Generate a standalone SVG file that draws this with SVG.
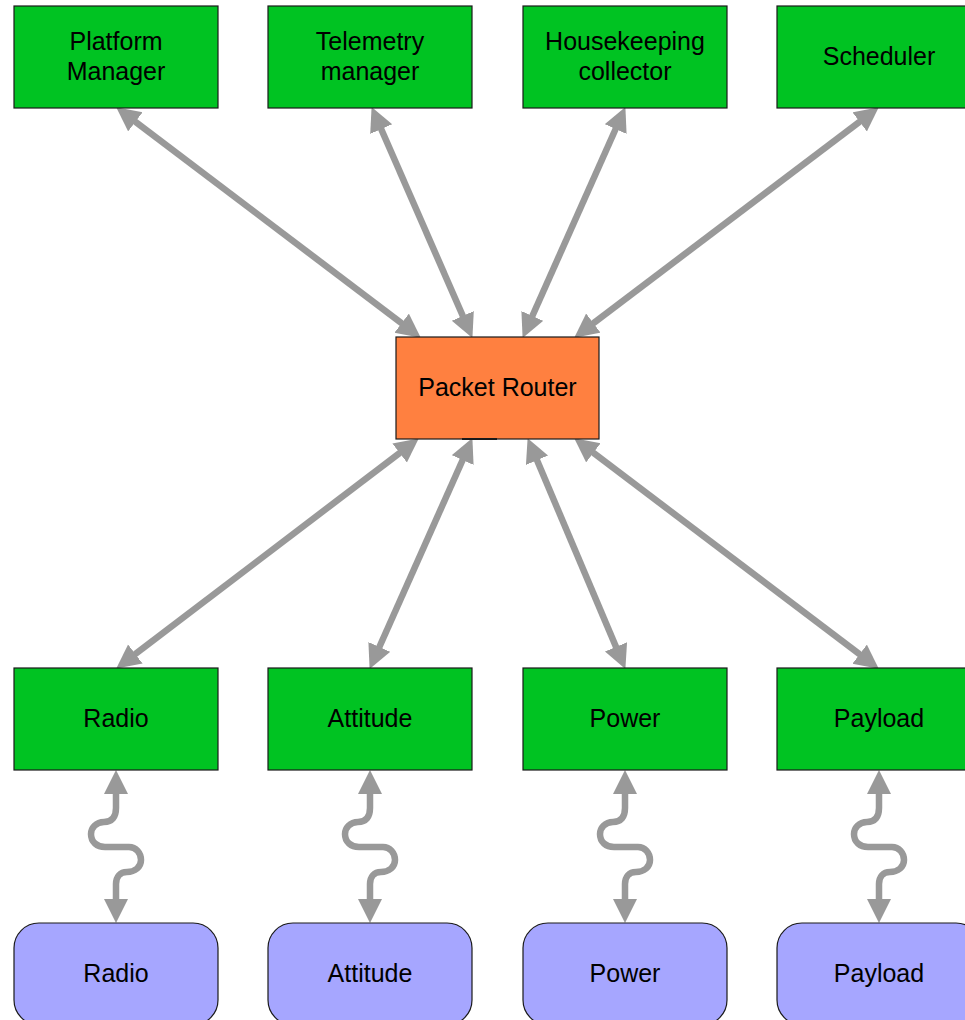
<svg xmlns="http://www.w3.org/2000/svg" width="965" height="1020" viewBox="0 0 965 1020">
  <style>
    .box { stroke: #1a1a1a; stroke-width: 1.2; }
    .app { fill: #00c322; }
    .router { fill: #ff8040; }
    .hw { fill: #a6a6ff; }
    .lbl { font-family: "Liberation Sans", Arial, sans-serif; font-size: 25px; fill: #000; text-anchor: middle; }
    .link { fill: none; stroke: #999999; stroke-width: 6.5; stroke-linejoin: round; marker-start: url(#head); marker-end: url(#head); }
  </style>
  <defs>
    <marker id="head" markerUnits="userSpaceOnUse" markerWidth="26" markerHeight="26" viewBox="0 0 26 26" refX="11" refY="12" orient="auto-start-reverse">
      <path d="M0,0 L24,12 L0,24 Z" fill="#999999"/>
    </marker>
  </defs>

  <!-- connectors -->
  <g id="connectors">
    <line class="link" x1="126.6" y1="115.2" x2="410.4" y2="329.8"/>
    <line class="link" x1="376.8" y1="119.0" x2="467.2" y2="326.0"/>
    <line class="link" x1="620.1" y1="119.0" x2="527.9" y2="326.0"/>
    <line class="link" x1="868.4" y1="115.2" x2="584.6" y2="329.8"/>
    <line class="link" x1="408.4" y1="446.3" x2="126.6" y2="660.7"/>
    <line class="link" x1="467.1" y1="450.0" x2="374.9" y2="657.0"/>
    <line class="link" x1="532.7" y1="450.1" x2="620.3" y2="657.0"/>
    <line class="link" x1="584.6" y1="446.2" x2="868.4" y2="660.8"/>
    <!-- wavy device links -->
    <path class="link" d="M116,783 V808 C116,817 112,822 104,822 C96,822 91,828 91,834 C91,842 97,847 105,847 H129 C136,847 141,853 141,860 C141,867 135,872 127,872 C120,872 116,877 116,884 V910"/>
    <path class="link" d="M370,783 V808 C370,817 366,822 358,822 C350,822 345,828 345,834 C345,842 351,847 359,847 H383 C390,847 395,853 395,860 C395,867 389,872 381,872 C374,872 370,877 370,884 V910"/>
    <path class="link" d="M625,783 V808 C625,817 621,822 613,822 C605,822 600,828 600,834 C600,842 606,847 614,847 H638 C645,847 650,853 650,860 C650,867 644,872 636,872 C629,872 625,877 625,884 V910"/>
    <path class="link" d="M879,783 V808 C879,817 875,822 867,822 C859,822 854,828 854,834 C854,842 860,847 868,847 H892 C899,847 904,853 904,860 C904,867 898,872 890,872 C883,872 879,877 879,884 V910"/>
  </g>

  <!-- top row services -->
  <g id="platform-manager">
    <rect class="box app" x="14" y="6" width="204" height="102"/>
    <text class="lbl" x="116" y="50">Platform</text>
    <text class="lbl" x="116" y="80">Manager</text>
  </g>
  <g id="telemetry-manager">
    <rect class="box app" x="268" y="6" width="204" height="102"/>
    <text class="lbl" x="370" y="50">Telemetry</text>
    <text class="lbl" x="370" y="80">manager</text>
  </g>
  <g id="housekeeping-collector">
    <rect class="box app" x="523" y="6" width="204" height="102"/>
    <text class="lbl" x="625" y="50">Housekeeping</text>
    <text class="lbl" x="625" y="80">collector</text>
  </g>
  <g id="scheduler">
    <rect class="box app" x="777" y="6" width="204" height="102"/>
    <text class="lbl" x="879" y="65">Scheduler</text>
  </g>

  <!-- central router -->
  <g id="packet-router">
    <rect class="box router" x="396" y="337" width="203" height="102"/>
    <line x1="462" y1="439" x2="497" y2="439" stroke="#1a1a1a" stroke-width="2.2"/>
    <text class="lbl" x="497.5" y="396">Packet Router</text>
  </g>

  <!-- device handlers -->
  <g id="radio-handler">
    <rect class="box app" x="14" y="668" width="204" height="102"/>
    <text class="lbl" x="116" y="727">Radio</text>
  </g>
  <g id="attitude-handler">
    <rect class="box app" x="268" y="668" width="204" height="102"/>
    <text class="lbl" x="370" y="727">Attitude</text>
  </g>
  <g id="power-handler">
    <rect class="box app" x="523" y="668" width="204" height="102"/>
    <text class="lbl" x="625" y="727">Power</text>
  </g>
  <g id="payload-handler">
    <rect class="box app" x="777" y="668" width="204" height="102"/>
    <text class="lbl" x="879" y="727">Payload</text>
  </g>

  <!-- hardware devices -->
  <g id="radio-device">
    <rect class="box hw" x="14" y="923" width="204" height="102" rx="25" ry="25"/>
    <text class="lbl" x="116" y="982">Radio</text>
  </g>
  <g id="attitude-device">
    <rect class="box hw" x="268" y="923" width="204" height="102" rx="25" ry="25"/>
    <text class="lbl" x="370" y="982">Attitude</text>
  </g>
  <g id="power-device">
    <rect class="box hw" x="523" y="923" width="204" height="102" rx="25" ry="25"/>
    <text class="lbl" x="625" y="982">Power</text>
  </g>
  <g id="payload-device">
    <rect class="box hw" x="777" y="923" width="204" height="102" rx="25" ry="25"/>
    <text class="lbl" x="879" y="982">Payload</text>
  </g>
</svg>
